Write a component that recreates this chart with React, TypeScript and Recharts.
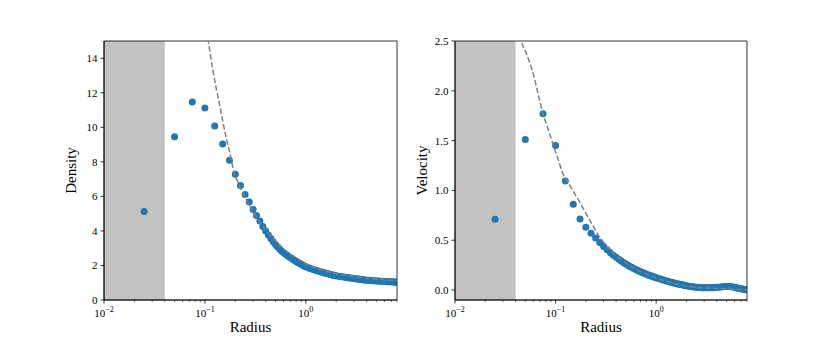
import React from "react";
import {
  ComposedChart,
  Scatter,
  Line,
  XAxis,
  YAxis,
  ReferenceArea,
} from "recharts";

// simulation samples (same radii for both panels)
const dotRadius = [
  0.025, 0.05, 0.075, 0.1, 0.125, 0.15, 0.175, 0.2, 0.225, 0.25,
  0.275, 0.3, 0.325, 0.35, 0.375, 0.4, 0.425, 0.45, 0.475, 0.5,
  0.525, 0.55, 0.575, 0.6, 0.625, 0.65, 0.675, 0.7, 0.725, 0.75,
  0.775, 0.8, 0.825, 0.85, 0.875, 0.9, 0.925, 0.95, 0.975, 1.0,
  1.05, 1.1, 1.15, 1.2, 1.25, 1.3, 1.35, 1.4, 1.45, 1.5,
  1.55, 1.6, 1.65, 1.7, 1.75, 1.8, 1.85, 1.9, 1.95, 2.0,
  2.1, 2.2, 2.3, 2.4, 2.5, 2.6, 2.7, 2.8, 2.9, 3.0,
  3.1, 3.2, 3.3, 3.4, 3.5, 3.6, 3.7, 3.8, 3.9, 4.0,
  4.2, 4.4, 4.6, 4.8, 5.0, 5.2, 5.4, 5.6, 5.8, 6.0,
  6.2, 6.4, 6.6, 6.8, 7.0, 7.2, 7.4, 7.6, 7.8, 8.0,
];

const densityDots = [
  5.13, 9.45, 11.46, 11.12, 10.08, 9.03, 8.1, 7.28, 6.63, 6.11,
  5.67, 5.24, 4.9, 4.57, 4.26, 3.99, 3.76, 3.56, 3.37, 3.21,
  3.07, 2.95, 2.84, 2.75, 2.67, 2.59, 2.52, 2.46, 2.4, 2.35,
  2.29, 2.24, 2.19, 2.15, 2.11, 2.07, 2.03, 2.0, 1.96, 1.93,
  1.88, 1.83, 1.79, 1.75, 1.72, 1.69, 1.66, 1.63, 1.6, 1.58,
  1.56, 1.54, 1.52, 1.5, 1.48, 1.46, 1.44, 1.43, 1.41, 1.4,
  1.38, 1.36, 1.34, 1.33, 1.31, 1.3, 1.28, 1.27, 1.26, 1.24,
  1.23, 1.22, 1.21, 1.2, 1.19, 1.18, 1.17, 1.16, 1.16, 1.15,
  1.14, 1.13, 1.12, 1.11, 1.1, 1.1, 1.09, 1.08, 1.08, 1.07,
  1.07, 1.06, 1.06, 1.05, 1.05, 1.04, 1.04, 1.04, 1.03, 1.03,
];

const velocityDots = [
  0.71, 1.51, 1.77, 1.45, 1.095, 0.86, 0.714, 0.63, 0.571, 0.522,
  0.477, 0.438, 0.404, 0.375, 0.35, 0.328, 0.308, 0.291, 0.275, 0.261,
  0.248, 0.237, 0.226, 0.216, 0.207, 0.199, 0.191, 0.184, 0.177, 0.171,
  0.165, 0.159, 0.154, 0.149, 0.144, 0.14, 0.136, 0.132, 0.128, 0.124,
  0.117, 0.11, 0.104, 0.098, 0.093, 0.088, 0.083, 0.079, 0.075, 0.071,
  0.067, 0.064, 0.061, 0.058, 0.055, 0.052, 0.05, 0.047, 0.045, 0.043,
  0.039, 0.036, 0.033, 0.03, 0.028, 0.026, 0.025, 0.024, 0.023, 0.022,
  0.022, 0.022, 0.022, 0.022, 0.023, 0.023, 0.024, 0.025, 0.026, 0.027,
  0.029, 0.031, 0.033, 0.035, 0.036, 0.036, 0.035, 0.033, 0.03, 0.027,
  0.024, 0.021, 0.018, 0.015, 0.012, 0.01, 0.008, 0.006, 0.004, 0.003,
];

// analytic solution (dashed)
const densityCurveRadius = [
  0.104, 0.108, 0.12, 0.13, 0.141, 0.152, 0.164, 0.18, 0.195, 0.21, 0.22,
  0.25, 0.28, 0.3, 0.33, 0.35, 0.4, 0.45, 0.5, 0.55, 0.6, 0.65, 0.7, 0.75,
  0.8, 0.9, 1.0, 1.1, 1.2, 1.3, 1.5, 1.7, 2.0, 2.2, 2.5, 3.0, 3.5, 4.0,
  5.0, 6.0, 7.0, 8.0,
];
const densityCurve = [
  15.6, 15.0, 13.3, 12.2, 11.2, 10.2, 9.3, 8.3, 7.35, 6.9, 6.6,
  5.95, 5.41, 5.12, 4.75, 4.5, 4.05, 3.7, 3.42, 3.18, 2.97, 2.8, 2.66, 2.55,
  2.44, 2.26, 2.1, 1.99, 1.9, 1.82, 1.71, 1.63, 1.54, 1.49, 1.43, 1.35, 1.3, 1.26,
  1.2, 1.17, 1.14, 1.12,
];

const velocityCurveRadius = [
  0.0445, 0.0457, 0.05, 0.055, 0.06, 0.067, 0.075, 0.084, 0.094, 0.105,
  0.118, 0.133, 0.15, 0.165, 0.18, 0.2, 0.225, 0.25, 0.27, 0.3, 0.35,
  0.4, 0.45, 0.5, 0.6, 0.7, 0.8, 0.9, 1.0, 1.15, 1.3, 1.6, 2.0, 2.5,
  3.0, 4.0, 5.0, 6.0, 7.0, 8.0,
];
const velocityCurve = [
  2.56, 2.5, 2.4, 2.29, 2.17, 1.97, 1.77, 1.62, 1.47, 1.325,
  1.17, 1.08, 0.99, 0.92, 0.855, 0.77, 0.68, 0.6, 0.54, 0.48, 0.4,
  0.345, 0.305, 0.27, 0.22, 0.185, 0.16, 0.138, 0.12, 0.1, 0.085, 0.06, 0.04, 0.027,
  0.02, 0.016, 0.014, 0.01, 0.006, 0.004,
];

const shadeRange = [0.01, 0.04];
const radiusDomain = [0.01, 8];
const majorRadiusTicks = [0.01, 0.1, 1];
const majorExponents = ["\u22122", "\u22121", "0"];
const minorRadiusTicks = [
  0.02, 0.03, 0.04, 0.05, 0.06, 0.07, 0.08, 0.09,
  0.2, 0.3, 0.4, 0.5, 0.6, 0.7, 0.8, 0.9,
  2, 3, 4, 5, 6, 7, 8,
];
const densityTicks = [0, 2, 4, 6, 8, 10, 12, 14];
const velocityTicks = [0, 0.5, 1, 1.5, 2, 2.5];

const FONT = "Liberation Serif, DejaVu Serif, serif";
const BLUE = "#1f77b4";

const zip = (xs: number[], ys: number[]) => xs.map((r, i) => ({ r, v: ys[i] }));

const RadiusTick = (props: any) => {
  const { x, y, payload } = props;
  const idx = majorRadiusTicks.indexOf(payload.value);
  const major = idx >= 0;
  return (
    <g>
      <line
        x1={x}
        x2={x}
        y1={y}
        y2={y + (major ? 3.5 : 2)}
        stroke="#000"
        strokeWidth={major ? 0.8 : 0.6}
      />
      {major && (
        <text
          x={x}
          y={y + 17}
          textAnchor="middle"
          style={{ fontFamily: FONT, fontSize: 11 }}
          fill="#000"
        >
          10
          <tspan dy={-5} style={{ fontSize: 8 }}>
            {majorExponents[idx]}
          </tspan>
        </text>
      )}
    </g>
  );
};

const ValueTick = (props: any) => {
  const { x, y, payload, fmt } = props;
  return (
    <text
      x={x}
      y={y}
      dy={4}
      textAnchor="end"
      style={{ fontFamily: FONT, fontSize: 11 }}
      fill="#000"
    >
      {fmt(payload.value)}
    </text>
  );
};

const XTitle = (props: any) => {
  const vb = props.viewBox || { x: 0, y: 0, width: 0 };
  return (
    <text
      x={vb.x + vb.width / 2}
      y={vb.y + 32}
      textAnchor="middle"
      style={{ fontFamily: FONT, fontSize: 15 }}
      fill="#000"
    >
      {props.text}
    </text>
  );
};

const YTitle = (props: any) => {
  const vb = props.viewBox || { x: 0, y: 0, width: 0, height: 0 };
  const cx = vb.x + vb.width - 33;
  const cy = vb.y + vb.height / 2;
  return (
    <text
      x={cx}
      y={cy}
      transform={`rotate(-90 ${cx} ${cy})`}
      textAnchor="middle"
      dominantBaseline="central"
      style={{ fontFamily: FONT, fontSize: 15 }}
      fill="#000"
    >
      {props.text}
    </text>
  );
};

const dotShape = (p: any) => <circle cx={p.cx} cy={p.cy} r={3.5} fill={BLUE} />;

type PanelProps = {
  left: number;
  width: number;
  yAxisWidth: number;
  marginRight: number;
  yDomain: number[];
  yTicks: number[];
  yFormat: (v: number) => string;
  yLabel: string;
  dots: { r: number; v: number }[];
  curve: { r: number; v: number }[];
};

// Two identical chart layers stacked: the lower one holds the shading and the
// dots, the upper one the dashed curve, the frame and the axes, so the dashed
// line always sits on top of the blue band.
const Panel: React.FC<PanelProps> = ({
  left,
  width,
  yAxisWidth,
  marginRight,
  yDomain,
  yTicks,
  yFormat,
  yLabel,
  dots,
  curve,
}) => {
  const layer = (top: boolean) => (
    <div style={{ position: "absolute", left, top: 0 }}>
      <ComposedChart
        width={width}
        height={338}
        margin={{ top: 41, right: marginRight, bottom: 0, left: 0 }}
      >
        <XAxis
          dataKey="r"
          type="number"
          scale="log"
          domain={radiusDomain}
          allowDataOverflow
          ticks={[...majorRadiusTicks, ...minorRadiusTicks]}
          interval={0}
          tick={top ? <RadiusTick /> : false}
          tickLine={false}
          tickSize={0}
          tickMargin={0}
          height={38}
          axisLine={top ? { stroke: "#000", strokeWidth: 0.8 } : false}
          label={top ? <XTitle text="Radius" /> : undefined}
        />
        <YAxis
          dataKey="v"
          type="number"
          domain={yDomain}
          allowDataOverflow
          ticks={yTicks}
          interval={0}
          width={yAxisWidth}
          tickSize={3.5}
          tickMargin={3}
          tick={top ? <ValueTick fmt={yFormat} /> : false}
          tickLine={top ? { stroke: "#000", strokeWidth: 0.8 } : false}
          axisLine={top ? { stroke: "#000", strokeWidth: 0.8 } : false}
          label={top ? <YTitle text={yLabel} /> : undefined}
        />
        {!top && (
          <ReferenceArea
            x1={shadeRange[0]}
            x2={shadeRange[1]}
            y1={yDomain[0]}
            y2={yDomain[1]}
            fill="#c2c2c2"
            fillOpacity={1}
            stroke="none"
          />
        )}
        {!top && (
          <Scatter data={dots} dataKey="v" shape={dotShape} isAnimationActive={false} />
        )}
        {top && (
          <Line
            data={curve}
            dataKey="v"
            type="monotone"
            stroke="#808080"
            strokeWidth={1.5}
            strokeDasharray="5.5 2.4"
            dot={false}
            activeDot={false}
            isAnimationActive={false}
          />
        )}
        {top && (
          <ReferenceArea
            x1={radiusDomain[0]}
            x2={radiusDomain[1]}
            y1={yDomain[0]}
            y2={yDomain[1]}
            fill="none"
            stroke="#000"
            strokeWidth={0.8}
          />
        )}
      </ComposedChart>
    </div>
  );
  return (
    <>
      {layer(false)}
      {layer(true)}
    </>
  );
};

export default function App() {
  return (
    <div
      style={{
        position: "absolute",
        left: 0,
        top: 0,
        width: 831,
        height: 338,
        background: "#fff",
        overflow: "hidden",
      }}
    >
      <Panel
        left={0}
        width={400}
        yAxisWidth={104}
        marginRight={3}
        yDomain={[0, 15]}
        yTicks={densityTicks}
        yFormat={(v) => String(v)}
        yLabel="Density"
        dots={zip(dotRadius, densityDots)}
        curve={zip(densityCurveRadius, densityCurve)}
      />
      <Panel
        left={400}
        width={431}
        yAxisWidth={55}
        marginRight={84}
        yDomain={[-0.1, 2.5]}
        yTicks={velocityTicks}
        yFormat={(v) => v.toFixed(1)}
        yLabel="Velocity"
        dots={zip(dotRadius, velocityDots)}
        curve={zip(velocityCurveRadius, velocityCurve)}
      />
    </div>
  );
}
